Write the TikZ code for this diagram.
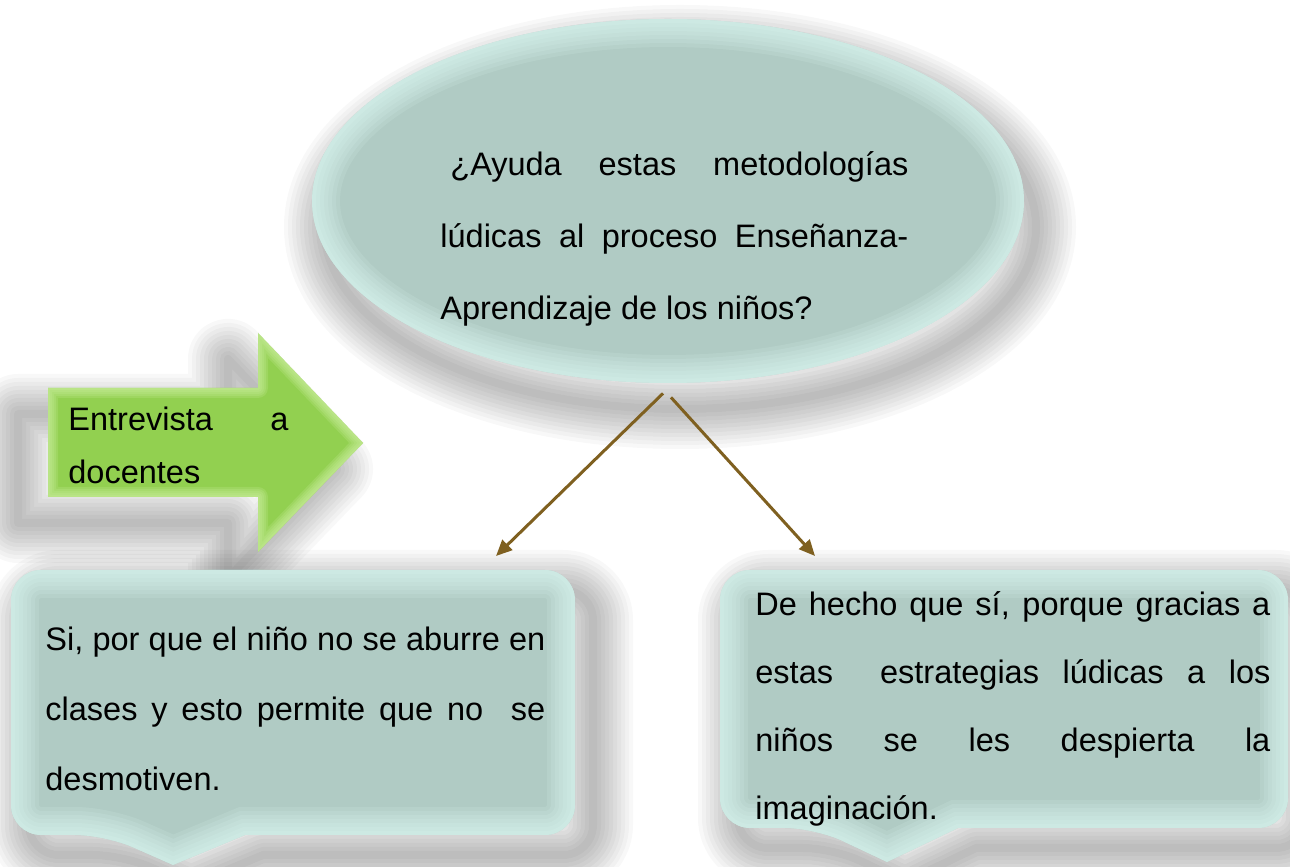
\documentclass[tikz,border=0pt]{standalone}
\usepackage{fontspec}
\setmainfont{Liberation Sans}
\usetikzlibrary{shapes.geometric,arrows.meta}

\definecolor{bubblefill}{RGB}{176,203,196}
\definecolor{bubbleglow}{RGB}{226,255,249}
\definecolor{arrowgreen}{RGB}{146,208,80}
\definecolor{arrowglow}{RGB}{206,240,162}
\definecolor{linkbrown}{RGB}{127,96,32}

\tolerance=10000
\hyphenpenalty=10000
\hbadness=10000

% outlines of the shapes (1 unit = 1 pixel)
\def\ellipsepath{(668,666) ellipse [x radius=356, y radius=182]}
\def\leftpath{(11,160) [rounded corners=15pt] -- (11,32) -- (105,32) [sharp corners] -- (173,2) -- (245,32) [rounded corners=15pt] -- (575,32) -- (575,297) -- (11,297) -- cycle}
\def\rightpath{(720,160) [rounded corners=15pt] -- (720,39) -- (815,39) [sharp corners] -- (887,5) -- (958,39) [rounded corners=15pt] -- (1288,39) -- (1288,297) -- (720,297) -- cycle}
\def\arrowpath{(48,370) -- (48,479) -- (258,479) -- (258,534) -- (363,424) -- (258,315) -- (258,370) -- cycle}

\begin{document}
\begin{tikzpicture}[x=0.5pt,y=0.5pt]
\tikzstyle{softshadow}=[draw=black,opacity=0.028,line join=round]
\tikzstyle{bubble}=[ellipse,fill=bubblefill,minimum width=356pt,minimum height=182pt,inner sep=0pt]
\tikzstyle{txt}=[inner sep=0pt,align=justify,anchor=base west]
\tikzstyle{link}=[draw=linkbrown,line width=1.5pt,-{Triangle[length=8pt,width=7pt]}]

% Page
\fill[white] (0,0) rectangle (1290,867);
\useasboundingbox (0,0) rectangle (1290,867);

% Draw the shadows
\begin{scope}[shift={(12,-26)}]
\foreach \w in {4,8,...,40} \path[softshadow,line width=\w pt] \ellipsepath;
\end{scope}
\begin{scope}[shift={(-30,-26)}]
\foreach \w in {4,8,...,40} \path[softshadow,line width=\w pt] \arrowpath;
\end{scope}
\begin{scope}[shift={(18,-20)}]
\foreach \w in {4,8,...,40} \path[softshadow,line width=\w pt] \leftpath;
\foreach \w in {4,8,...,40} \path[softshadow,line width=\w pt] \rightpath;
\end{scope}

% Draw the question bubble
\node[bubble] (q) at (668,666) {};
\begin{scope}
\clip \ellipsepath;
\foreach \w in {4,8,...,28} \draw[bubbleglow,opacity=0.13,line width=\w pt] \ellipsepath;
\end{scope}

% Draw the green arrow
\fill[arrowgreen] \arrowpath;
\begin{scope}
\clip \arrowpath;
\foreach \w in {2,4,...,10} \draw[arrowglow,opacity=0.2,line width=\w pt,line join=round] \arrowpath;
\end{scope}

% Draw the answer callouts
\fill[bubblefill] \leftpath;
\begin{scope}
\clip \leftpath;
\foreach \w in {4,8,...,28} \draw[bubbleglow,opacity=0.13,line width=\w pt] \leftpath;
\end{scope}
\fill[bubblefill] \rightpath;
\begin{scope}
\clip \rightpath;
\foreach \w in {4,8,...,28} \draw[bubbleglow,opacity=0.13,line width=\w pt] \rightpath;
\end{scope}

% Write the texts
\node[txt,text width=234pt,font=\fontsize{16.25pt}{36pt}\selectfont] (q-text) at (440,691)
{\hspace*{5pt}¿Ayuda estas metodologías\linebreak lúdicas al proceso Enseñanza-\linebreak Aprendizaje de los niños?};
\node[txt,text width=110pt,font=\fontsize{16.25pt}{26.5pt}\selectfont] (e-text) at (68,436)
{Entrevista a\linebreak docentes};
\node[txt,text width=250pt,font=\fontsize{16.25pt}{35pt}\selectfont] (l-text) at (45,216)
{Si, por que el niño no se aburre en\linebreak clases y esto permite que no\ \ se\linebreak desmotiven.};
\node[txt,text width=257.5pt,font=\fontsize{16.25pt}{34pt}\selectfont] (r-text) at (755,251)
{De hecho que sí, porque gracias a\linebreak estas\ \ estrategias lúdicas a los\linebreak niños se les despierta la\linebreak imaginación.};

% Connect the question with the answers
\coordinate (l-end) at (496,311);
\coordinate (r-end) at (815,311);
\draw[link] ([shift={(-5,-10)}]q.south) -- (l-end);
\draw[link] ([shift={(3,-14)}]q.south) -- (r-end);

\end{tikzpicture}
\end{document}
